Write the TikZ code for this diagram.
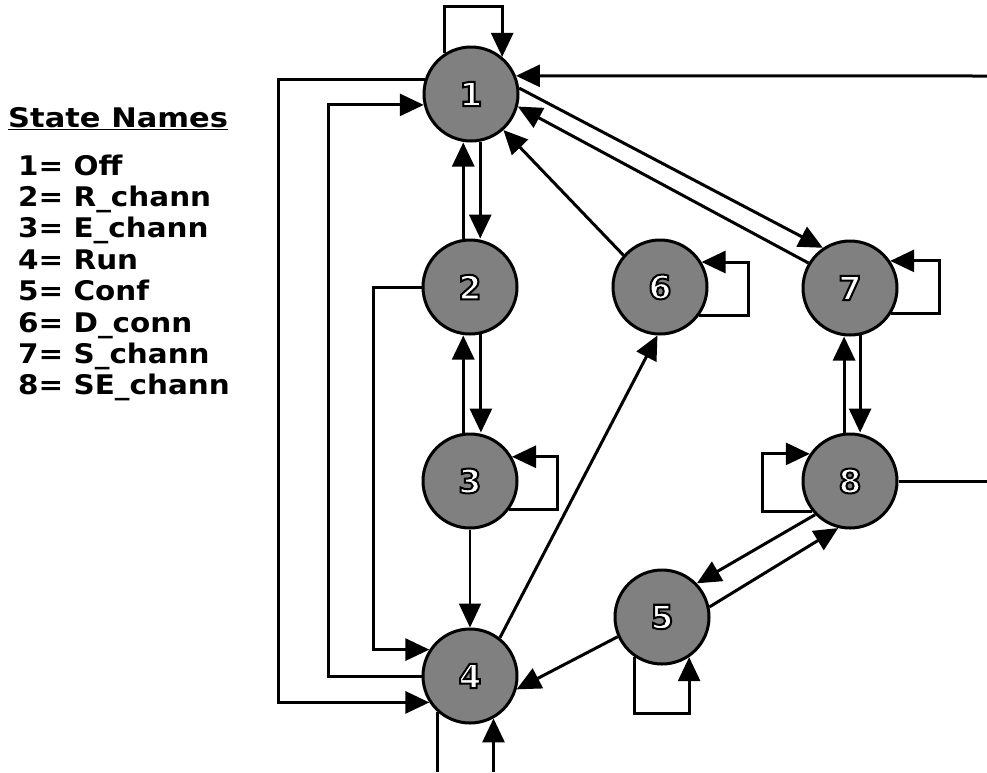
\documentclass[tikz,border=0pt]{standalone}
\usepackage{fontspec}
\setmainfont{DejaVu Sans}
\usetikzlibrary{arrows.meta}
\newcommand\outlinedtext[1]{{\color{white}\special{pdf:literal direct 0 G 2 Tr 2 w}#1\special{pdf:literal direct 0 Tr}}}
\begin{document}
\begin{tikzpicture}[x=1pt,y=-1pt,
  state/.style={circle,draw=black,line width=3pt,fill=black!50,minimum size=94pt,inner sep=0pt,
    font=\bfseries\fontsize{33}{33}\selectfont},
  edge/.style={line width=3pt},
  arr/.style={edge,-{Triangle[length=24pt,width=22pt]}},
  thinarr/.style={line width=2pt,-{Triangle[length=24pt,width=22pt]}},
  legend/.style={anchor=base west,inner sep=0pt,font=\bfseries\fontsize{27}{27}\selectfont},
  ]
\useasboundingbox (0,0) rectangle (987,772);

% legend
\node[legend,xscale=1.13] (title) at (8,127) {\underline{State Names}};
\foreach \t [count=\i] in {1= Off,2= R\_chann,3= E\_chann,4= Run,5= Conf,6= D\_conn,7= S\_chann,8= SE\_chann}
  \node[legend,xscale=1.09] (leg\i) at (18,{175+31.4*(\i-1)}) {\t};

% states
\node[state] (n1) at (471,94)  {\outlinedtext{1}};
\node[state] (n2) at (470,287) {\outlinedtext{2}};
\node[state] (n3) at (470,481) {\outlinedtext{3}};
\node[state] (n4) at (470,676) {\outlinedtext{4}};
\node[state] (n5) at (662,617) {\outlinedtext{5}};
\node[state] (n6) at (660,287) {\outlinedtext{6}};
\node[state] (n7) at (850,288) {\outlinedtext{7}};
\node[state] (n8) at (850,481) {\outlinedtext{8}};

% free ends at the picture edge
\coordinate (r1) at (987,76);
\coordinate (r8) at (987,481);
\coordinate (b4l) at (438,772);
\coordinate (b4r) at (493,772);

% connectors
\draw[arr] (n1.123) -- ++(0,-47) -| (n1.50);
\draw[edge] (n8.east) -- (r8);
\draw[arr] (r1) -- (n1.22);
\draw[arr] (n1.163) -- ++(-146,0) |- (n4.213);
\draw[arr] (n4.west) -- ++(-93,0) |- (n1.193);
\draw[arr] (n2.west) -- ++(-48,0) |- (n4.147);
\draw[arr] (n2.98) -- (n2.98 |- n1.south);
\draw[arr] (n1.281) -- (n1.281 |- n2.north);
\draw[arr] (n3.98) -- (n3.98 |- n2.south);
\draw[arr] (n2.283) -- (n2.283 |- n3.north);
\draw[arr] (n3.324) -- ++(48,0) |- (n3.30);
\draw[thinarr] (n3.south) -- (n4.north);
\draw[arr] (n4.52) -- (n6.267);
\draw[arr] (n6.139) -- (n1.312);
\draw[arr] (n6.324) -- ++(49,0) |- (n6.31);
\draw[arr] (n1.7) -- (n7.124);
\draw[arr] (n7.149) -- (n1.345);
\draw[arr] (n7.328) -- ++(48,0) |- (n7.34);
\draw[arr] (n8.97) -- (n8.97 |- n7.south);
\draw[arr] (n7.282) -- (n7.282 |- n8.north);
\draw[arr] (n8.219) -- ++(-50,0) |- (n8.146);
\draw[arr] (n8.224) -- (n5.44);
\draw[arr] (n5.12) -- (n8.256);
\draw[arr] (n5.204) -- (n4.344);
\draw[arr] (n5.236) -- ++(0,56) -| (n5.304);
\draw[edge] (n4.228) -- (n4.228 |- b4l);
\draw[arr] (n4.299 |- b4r) -- (n4.299);
\end{tikzpicture}
\end{document}
